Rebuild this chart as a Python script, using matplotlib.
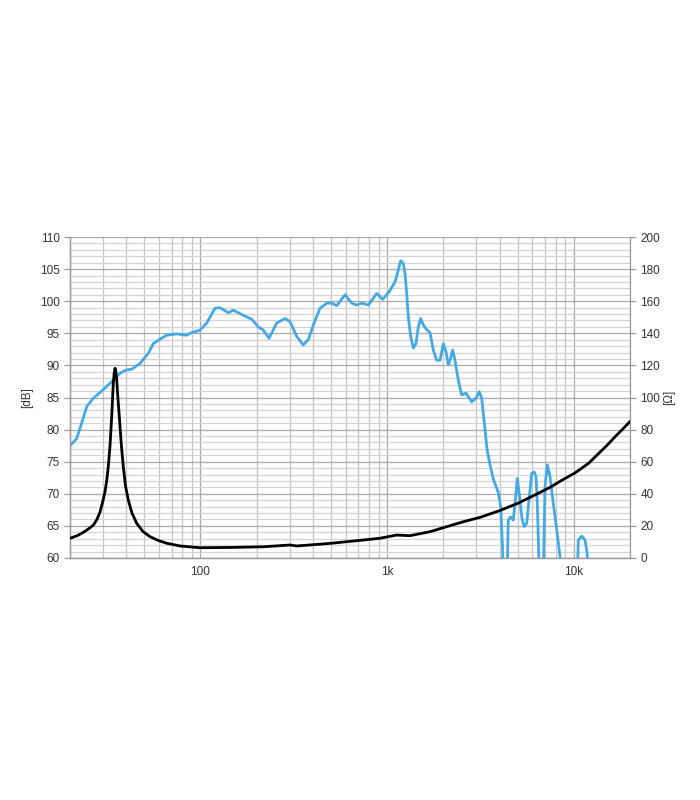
import matplotlib
matplotlib.use("Agg")
import matplotlib.pyplot as plt
from matplotlib.ticker import FixedLocator, NullFormatter, FixedFormatter

plt.rcParams['font.family'] = ['Liberation Sans', 'DejaVu Sans']

# SPL response [dB] (left axis)
spl_freq = [20, 21.7, 23.1, 24.6, 26.7, 30.1, 34.1, 37.1, 40.2, 42.8, 47.4, 52.6,
            55.9, 60.7, 65.9, 74.6, 84.4, 87.9, 99.4, 108, 119.6, 127.3, 141, 150,
            169.6, 188, 204, 217, 233, 256, 284, 302, 328, 355, 378, 406, 437, 475,
            505, 537, 595, 646, 687, 731, 793, 879, 947, 1027, 1102, 1148, 1182,
            1220, 1247, 1273, 1298, 1337, 1381, 1427, 1469, 1512, 1562, 1628, 1697,
            1767, 1843, 1920, 2000, 2067, 2126, 2171, 2245, 2309, 2406, 2509, 2645,
            2838, 2993, 3117, 3210, 3303, 3428, 3557, 3705, 3939, 4058, 4160, 4252,
            4331, 4413, 4456, 4590, 4739, 4900, 4978, 5103, 5262, 5409, 5593, 5775,
            5948, 6120, 6274, 6376, 6511, 6632, 6756, 6882, 7010, 7212, 7456, 7763,
            8156, 8433, 8590, 10273, 10465, 10570, 11020, 11480, 11810, 12030, 13818]
spl_db = [77.5, 78.6, 81.0, 83.6, 84.9, 86.2, 87.7, 88.8, 89.3, 89.4, 90.3, 91.9,
          93.4, 94.1, 94.7, 94.9, 94.7, 95.0, 95.5, 96.6, 98.9, 99.0, 98.2, 98.6,
          97.8, 97.2, 96.0, 95.5, 94.2, 96.6, 97.3, 96.8, 94.5, 93.2, 94.0, 96.6,
          98.9, 99.7, 99.7, 99.3, 101.0, 99.7, 99.4, 99.7, 99.4, 101.2, 100.3,
          101.5, 103.0, 104.9, 106.3, 105.9, 104.3, 101.2, 97.6, 94.5, 92.7, 93.4,
          96.0, 97.3, 96.3, 95.6, 95.1, 92.4, 90.8, 90.8, 93.4, 92.1, 90.1, 90.8,
          92.4, 90.8, 87.7, 85.4, 85.7, 84.3, 84.9, 85.9, 84.9, 81.5, 77.0, 74.5,
          72.3, 70.2, 68.0, 61.0, 45.0, 45.0, 60.0, 65.9, 66.4, 65.9, 70.0, 72.4,
          70.0, 66.4, 64.9, 65.4, 69.5, 73.2, 73.4, 72.7, 68.5, 59.0, 45.0, 45.0,
          59.0, 71.1, 74.5, 72.7, 68.5, 63.8, 60.2, 45.0, 45.0, 58.0, 62.8, 63.4,
          62.8, 60.6, 45.0, 45.0]

# Impedance [ohm] (right axis)
imp_freq = [20, 21.8, 23.6, 24.6, 25.7, 26.7, 27.8, 29.0, 30.1, 30.8, 31.44, 32.07,
            32.77, 33.45, 34.12, 34.5, 34.85, 35.2, 35.59, 36.1, 36.75, 37.7, 38.6,
            39.65, 41.05, 42.96, 45.54, 49.2, 53.66, 59.2, 65.9, 77.7, 99.4, 150,
            217, 302, 328, 494, 745, 916, 1125, 1326, 1697, 2085, 2559, 3144, 4000,
            5000, 6000, 7456, 8500, 10147, 12000, 13818, 15000, 16975, 18000, 20000]
imp_ohm = [12.3, 13.8, 16.0, 17.4, 19.0, 20.6, 23.7, 28.8, 36.1, 41.3, 48.0, 56.9,
           70.0, 88.0, 108.8, 115.0, 118.2, 116.0, 110.9, 100.0, 88.0, 70.0, 56.9,
           45.0, 36.1, 28.0, 21.6, 16.5, 13.3, 11.0, 9.2, 7.5, 6.4, 6.6, 7.0, 8.1,
           7.5, 9.1, 11.2, 12.3, 14.3, 13.9, 16.4, 19.5, 22.6, 25.3, 29.5, 34.0,
           38.5, 44.0, 48.0, 53.0, 59.0, 66.0, 70.0, 76.6, 79.5, 85.0]

x_major = [100, 1000, 10000]
x_major_labels = ['100', '1k', '10k']
x_minor = [20, 30, 40, 50, 60, 70, 80, 90, 200, 300, 400, 500, 600, 700, 800, 900,
           2000, 3000, 4000, 5000, 6000, 7000, 8000, 9000, 20000]
y_left_ticks = [60, 65, 70, 75, 80, 85, 90, 95, 100, 105, 110]
y_right_ticks = [0, 20, 40, 60, 80, 100, 120, 140, 160, 180, 200]

blue = '#45a9e3'
grid_major = '#a8a8a8'
grid_minor = '#d4d4d4'
spine_c = '#9a9a9a'
text_c = '#333333'

fig = plt.figure(figsize=(7, 8), dpi=100)
ax = fig.add_axes([0.1, 0.3025, 0.8, 0.40125])
ax2 = ax.twinx()

ax.set_xscale('log')
ax.set_xlim(20, 20000)
ax.set_ylim(60, 110)
ax2.set_ylim(0, 200)

ax.xaxis.set_major_locator(FixedLocator(x_major))
ax.xaxis.set_major_formatter(FixedFormatter(x_major_labels))
ax.xaxis.set_minor_locator(FixedLocator(x_minor))
ax.xaxis.set_minor_formatter(NullFormatter())
ax.yaxis.set_major_locator(FixedLocator(y_left_ticks))
ax.yaxis.set_minor_locator(FixedLocator([v for v in range(60, 111) if v % 5]))
ax2.yaxis.set_major_locator(FixedLocator(y_right_ticks))
ax2.yaxis.set_minor_locator(FixedLocator([]))

ax.grid(True, which='major', axis='both', color=grid_major, lw=0.9)
ax.grid(True, which='minor', axis='y', color=grid_minor, lw=0.9)
ax.grid(True, which='minor', axis='x', color='#c4c4c4', lw=0.9)
ax.set_axisbelow(True)

ax.plot(spl_freq, spl_db, color=blue, lw=2.0, solid_joinstyle='round', zorder=3)
ax2.plot(imp_freq, imp_ohm, color='black', lw=2.0, solid_joinstyle='round', zorder=3)

for a in (ax, ax2):
    for s in a.spines.values():
        s.set_color(spine_c)
        s.set_linewidth(0.9)
    a.spines['top'].set_visible(False)
    a.tick_params(which='both', colors=spine_c, labelcolor=text_c, labelsize=8.5,
                  length=4, width=0.9)
    a.tick_params(which='minor', length=0)
ax.spines['right'].set_visible(False)
ax.tick_params(axis='x', which='major', length=0, pad=6)

ax.set_ylabel('[dB]', fontsize=8.5, color=text_c, labelpad=5)
ax2.set_ylabel('[Ω]', fontsize=8.5, color=text_c, labelpad=2, rotation=90)

fig.savefig('out.png', dpi=100, facecolor='white')
